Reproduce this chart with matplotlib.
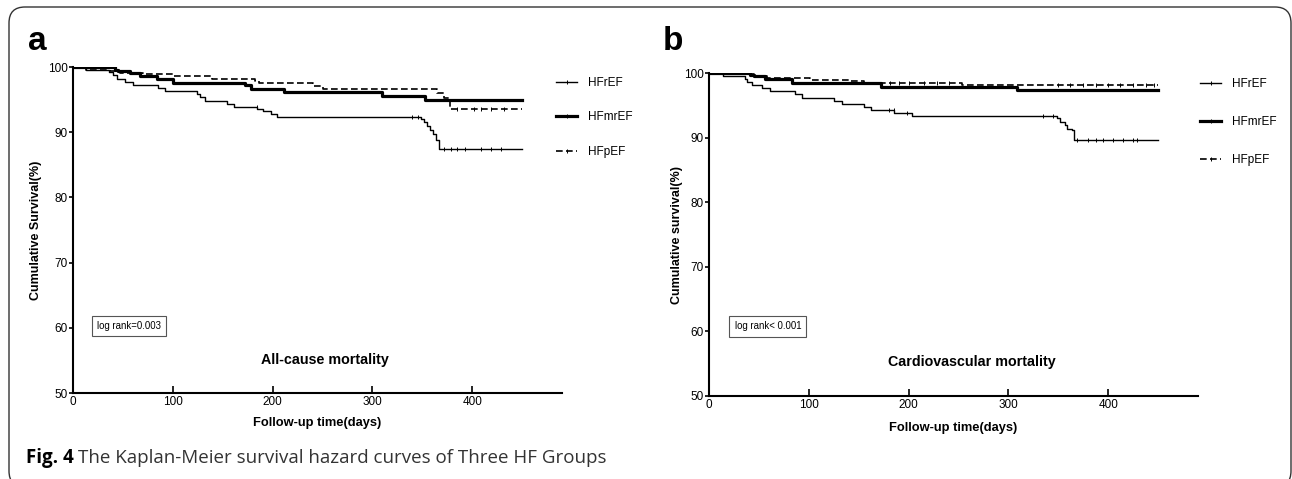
import matplotlib
matplotlib.use('Agg')
import matplotlib.pyplot as plt
from matplotlib.lines import Line2D
from matplotlib.patches import FancyBboxPatch

plt.rcParams['font.family'] = ['Liberation Sans', 'DejaVu Sans']

# ---- data ----
groups = ['HFrEF', 'HFmrEF', 'HFpEF']

# panel a: all-cause mortality
a_ref_t = [0, 13, 36, 40, 44, 52, 60, 85, 92, 124, 127, 132, 154, 161, 184, 190, 198, 204,
           349, 352, 355, 358, 361, 364, 367, 450]
a_ref_s = [100, 99.6, 99.3, 98.8, 98.2, 97.7, 97.2, 96.8, 96.3, 95.9, 95.4, 94.8, 94.3, 93.9,
           93.5, 93.2, 92.8, 92.4, 92.0, 91.5, 91.0, 90.4, 89.8, 88.8, 87.4, 87.4]
a_mr_t = [0, 42, 45, 57, 67, 84, 100, 172, 178, 211, 310, 353, 450]
a_mr_s = [100, 99.6, 99.4, 99.1, 98.6, 98.1, 97.6, 97.2, 96.7, 96.1, 95.5, 95.0, 95.0]
a_pe_t = [0, 13, 37, 47, 70, 100, 139, 182, 186, 240, 251, 365, 372, 378, 450]
a_pe_s = [100, 99.6, 99.4, 99.1, 98.9, 98.6, 98.1, 97.8, 97.5, 97.1, 96.6, 96.0, 95.3, 93.6, 93.6]

a_ref_cens_t = [184, 340, 346, 372, 379, 385, 393, 409, 419, 429]
a_ref_cens_s = [93.9, 92.4, 92.4, 87.4, 87.4, 87.4, 87.4, 87.4, 87.4, 87.4]
a_pe_cens_t = [385, 402, 409, 419, 432]
a_pe_cens_s = [93.6, 93.6, 93.6, 93.6, 93.6]

# panel b: cardiovascular mortality
b_ref_t = [0, 14, 36, 38, 43, 53, 61, 86, 93, 125, 133, 155, 162, 185, 203,
           349, 352, 357, 359, 364, 366, 450]
b_ref_s = [100, 99.6, 99.1, 98.6, 98.2, 97.7, 97.2, 96.8, 96.2, 95.7, 95.2, 94.8, 94.3,
           93.8, 93.3, 93.1, 92.4, 91.9, 91.4, 91.2, 89.6, 89.6]
b_mr_t = [0, 41, 45, 56, 83, 172, 309, 450]
b_mr_s = [100, 99.7, 99.6, 99.1, 98.5, 97.9, 97.4, 97.4]
b_pe_t = [0, 38, 45, 58, 101, 140, 155, 254, 450]
b_pe_s = [100, 99.8, 99.6, 99.3, 98.9, 98.7, 98.5, 98.2, 98.2]

b_ref_cens_t = [180, 185, 198, 335, 345, 369, 380, 388, 395, 405, 415, 425, 429]
b_ref_cens_s = [94.3, 94.3, 93.8, 93.3, 93.3, 89.6, 89.6, 89.6, 89.6, 89.6, 89.6, 89.6, 89.6]
b_pe_cens_t = [181, 190, 200, 215, 228, 240, 350, 362, 375, 388, 400, 412, 425, 438, 446]
b_pe_cens_s = [98.5, 98.5, 98.5, 98.5, 98.5, 98.5, 98.2, 98.2, 98.2, 98.2, 98.2, 98.2, 98.2,
               98.2, 98.2]

xticks = [0, 100, 200, 300, 400]
yticks = [50, 60, 70, 80, 90, 100]

STYLES = {
    'HFrEF': dict(color='black', lw=1.0, ls='-'),
    'HFmrEF': dict(color='black', lw=2.3, ls='-'),
    'HFpEF': dict(color='black', lw=1.2, ls=(0, (4, 2))),
}

W, H = 1292, 479
fig = plt.figure(figsize=(W / 100, H / 100), dpi=100)

# rounded figure frame, bottom edge runs off the picture
frame = FancyBboxPatch((0.09, -0.08), 12.82, 4.80,
                       boxstyle='round,pad=0,rounding_size=0.16',
                       transform=fig.dpi_scale_trans, fill=False,
                       edgecolor='#333333', lw=1.0, clip_on=False)
fig.patches.append(frame)


def make_panel(rect, curves, cens, logtxt, title, ylabel, title_xy, box_xy,
               ylab_x, xlab_y, leg_xy, leg_space):
    ax = fig.add_axes(rect)
    for name, (t, s) in zip(groups, curves):
        ax.step(t, s, where='post', **STYLES[name])
    for (ct, cs), name in cens:
        ax.plot(ct, cs, ls='none', marker='|', ms=2.5, mew=0.7, color='black')
    ax.set_xlim(0, 490)
    ax.set_ylim(50, 100)
    ax.set_xticks(xticks)
    ax.set_yticks(yticks)
    for sp in ['top', 'right']:
        ax.spines[sp].set_visible(False)
    for sp in ['left', 'bottom']:
        ax.spines[sp].set_linewidth(1.5)
    ax.tick_params(axis='x', direction='in', length=5, width=1.2, labelsize=8.5, pad=2)
    ax.tick_params(axis='y', direction='out', length=3, width=1.2, labelsize=8.5, pad=1)
    ax.set_ylabel(ylabel, fontsize=9, fontweight='bold')
    ax.yaxis.set_label_coords(ylab_x, 0.5)
    ax.set_xlabel('Follow-up time(days)', fontsize=9.3, fontweight='bold')
    ax.xaxis.set_label_coords(0.5, xlab_y)
    ax.text(title_xy[0], title_xy[1], title, fontsize=10.3, fontweight='bold',
            ha='center', va='center')
    ax.text(box_xy[0], box_xy[1], logtxt, fontsize=6.9, ha='center', va='center',
            bbox=dict(boxstyle='square,pad=0.55', fc='white', ec='#555555', lw=0.8))
    handles = [Line2D([], [], marker='|', ms=3, mew=0.7, **STYLES[g]) for g in groups]
    ax.legend(handles, groups, loc='upper left', frameon=False, fontsize=8.5,
              bbox_to_anchor=leg_xy, bbox_transform=fig.transFigure, borderpad=0,
              borderaxespad=0, handlelength=1.8, handletextpad=0.95,
              labelspacing=leg_space, numpoints=1)
    return ax


ax_a = make_panel([73 / W, 1 - 393 / H, 489 / W, 326 / H],
                  [(a_ref_t, a_ref_s), (a_mr_t, a_mr_s), (a_pe_t, a_pe_s)],
                  [((a_ref_cens_t, a_ref_cens_s), 'HFrEF'),
                   ((a_pe_cens_t, a_pe_cens_s), 'HFpEF')],
                  'log rank=0.003', 'All-cause mortality', 'Cumulative Survival(%)',
                  (252, 55.1), (56, 60.3), -0.063, -0.075,
                  (556 / W, 1 - 77 / H), 1.9)

ax_b = make_panel([709 / W, 1 - 396 / H, 489 / W, 323 / H],
                  [(b_ref_t, b_ref_s), (b_mr_t, b_mr_s), (b_pe_t, b_pe_s)],
                  [((b_ref_cens_t, b_ref_cens_s), 'HFrEF'),
                   ((b_pe_cens_t, b_pe_cens_s), 'HFpEF')],
                  'log rank< 0.001', 'Cardiovascular mortality', 'Cumulative survival(%)',
                  (263, 55.3), (59, 60.8), -0.053, -0.082,
                  (1200 / W, 1 - 78 / H), 2.2)

fig.text(28 / W, 1 - 50 / H, 'a', fontsize=24, fontweight='bold', ha='left', va='baseline')
fig.text(663 / W, 1 - 50 / H, 'b', fontsize=24, fontweight='bold', ha='left', va='baseline')

cap = fig.text(26 / W, 1 - 458 / H, 'Fig. 4', fontsize=13.5, fontweight='bold',
               family=['Open Sans', 'DejaVu Sans'], ha='left', va='center')
fig.canvas.draw()
bb = cap.get_window_extent()
fig.text((bb.x1 + 4) / W, 1 - 458 / H, 'The Kaplan-Meier survival hazard curves of Three HF Groups',
         fontsize=13.5, family=['Open Sans', 'DejaVu Sans'], color='#333333',
         ha='left', va='center')

fig.savefig('out.png', dpi=100)
